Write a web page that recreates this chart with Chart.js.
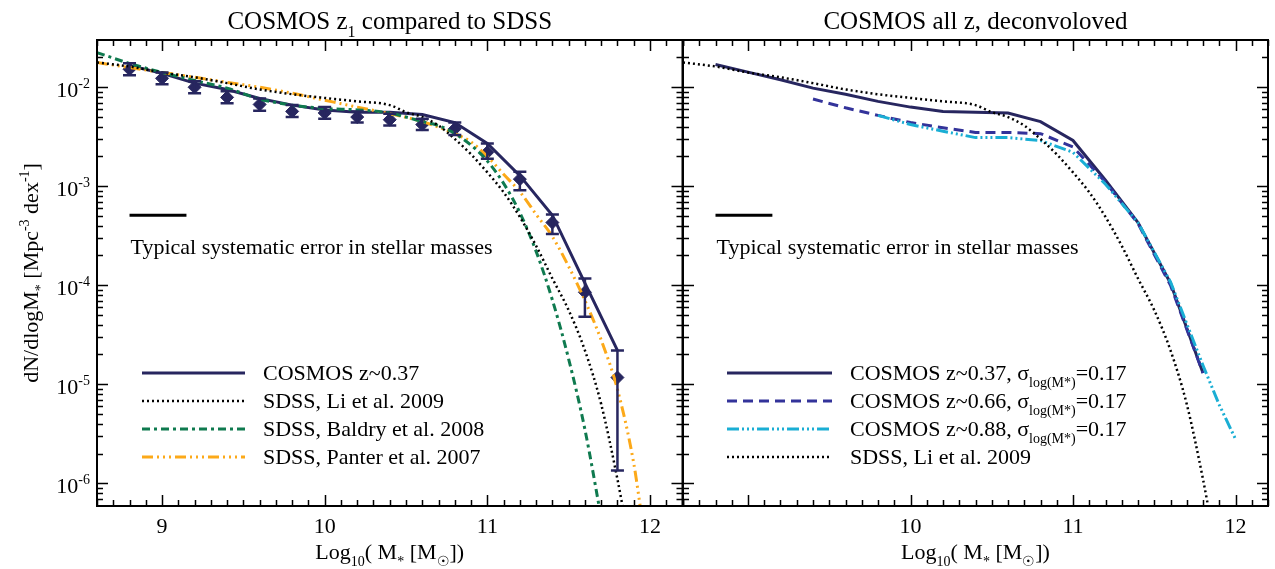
<!DOCTYPE html>
<html>
<head>
<meta charset="utf-8">
<script src="https://cdn.jsdelivr.net/npm/chart.js@4.4.1/dist/chart.umd.min.js"></script>
<style>
  body { margin: 0; background: #fff; width: 1275px; height: 569px; overflow: hidden; position: relative; }
  canvas { position: absolute; top: 0; }
  #left { left: 0; }
  #right { left: 676px; }
</style>
</head>
<body>
<canvas id="left" width="690" height="569"></canvas>
<canvas id="right" width="599" height="569"></canvas>
<script>
// ---- data (log10 stellar mass vs dN/dlogM*, Mpc^-3 dex^-1) ----
const massBins = [8.8, 9.0, 9.2, 9.4, 9.6, 9.8, 10.0, 10.2, 10.4, 10.6, 10.8, 11.0, 11.2, 11.4, 11.6, 11.8];

// left panel, COSMOS z~0.37
const cosmosLine = [0.0166, 0.0138, 0.0110, 0.0095, 0.0077, 0.0066, 0.0059, 0.0056, 0.0056, 0.0053, 0.0044, 0.0027, 0.00128, 0.00051, 0.000105, 0.000022];
const cosmosPoints = [0.0152, 0.0123, 0.0100, 0.0079, 0.0067, 0.0057, 0.0055, 0.0050, 0.0047, 0.0042, 0.0038, 0.0022, 0.00118, 0.00043, 0.000085, 0.0000117];
const cosmosErrLo = [0.0132, 0.0107, 0.0087, 0.0069, 0.0058, 0.0050, 0.0048, 0.0044, 0.0041, 0.0037, 0.0033, 0.0019, 0.00091, 0.00033, 0.000048, 0.00000135];
const cosmosErrHi = [0.0175, 0.0141, 0.0115, 0.0091, 0.0077, 0.0066, 0.0063, 0.0057, 0.0054, 0.0048, 0.0044, 0.0027, 0.00140, 0.00052, 0.000117, 0.000022];

// SDSS, Li et al. 2009
const liMass = [8.6, 8.8, 9.0, 9.2, 9.4, 9.6, 9.8, 10.0, 10.2, 10.4, 10.5, 10.6, 10.7, 10.8, 10.9, 11.0, 11.1, 11.2, 11.3, 11.4, 11.5, 11.6, 11.7, 11.8, 11.85];
const liPhi = [0.0178, 0.0162, 0.0141, 0.0126, 0.0110, 0.0095, 0.0085, 0.0078, 0.0072, 0.0066, 0.0056, 0.0050, 0.0041, 0.0030, 0.0021, 0.00138, 0.00087, 0.00049, 0.00025, 0.000117, 0.000056, 0.000022, 0.0000063, 0.0000011, 0.0000004];

// SDSS, Baldry et al. 2008
const baldryMass = [8.6, 8.8, 9.0, 9.2, 9.4, 9.6, 9.8, 10.0, 10.2, 10.4, 10.5, 10.6, 10.7, 10.8, 10.9, 11.0, 11.1, 11.2, 11.3, 11.4, 11.5, 11.6, 11.7];
const baldryPhi = [0.0224, 0.0174, 0.0141, 0.0117, 0.0098, 0.0076, 0.0066, 0.0061, 0.0059, 0.0055, 0.0050, 0.0045, 0.0041, 0.0034, 0.0026, 0.0018, 0.00107, 0.00054, 0.00022, 0.000071, 0.000018, 0.0000035, 0.00000045];

// SDSS, Panter et al. 2007
const panterMass = [8.6, 8.8, 9.0, 9.2, 9.4, 9.6, 9.8, 10.0, 10.2, 10.4, 10.6, 10.8, 10.9, 11.0, 11.1, 11.2, 11.3, 11.4, 11.5, 11.6, 11.7, 11.8, 11.9, 11.95];
const panterPhi = [0.0178, 0.0158, 0.0141, 0.0126, 0.0112, 0.0100, 0.0087, 0.0074, 0.0063, 0.0054, 0.0045, 0.0034, 0.0028, 0.0020, 0.00132, 0.00088, 0.00052, 0.00031, 0.000155, 0.000070, 0.000028, 0.0000089, 0.0000016, 0.00000045];

// right panel, deconvolved
const deconv037 = [0.0170, 0.0142, 0.0119, 0.0098, 0.0085, 0.0072, 0.0063, 0.0057, 0.0056, 0.0055, 0.0045, 0.0029, 0.00115, 0.00043, 0.000105, 0.000013];
const deconv066Mass = [9.4, 9.6, 9.8, 10.0, 10.2, 10.4, 10.6, 10.8, 11.0, 11.2, 11.4, 11.6, 11.8];
const deconv066 = [0.0076, 0.0062, 0.0052, 0.0044, 0.0039, 0.0035, 0.0035, 0.0034, 0.0025, 0.0011, 0.00042, 0.000100, 0.000013];
const deconv088Mass = [9.8, 10.0, 10.2, 10.4, 10.6, 10.8, 11.0, 11.2, 11.4, 11.6, 11.8, 11.9, 12.0];
const deconv088 = [0.0052, 0.0042, 0.0036, 0.0031, 0.0031, 0.0029, 0.0022, 0.00105, 0.00043, 0.000108, 0.0000155, 0.0000062, 0.0000028];

// typical systematic error bar
const sysErrMass = [8.8, 9.15];
const sysErrLevel = 0.00051;

const xTicksLeft = [9, 10, 11, 12];
const xTicksRight = [10, 11, 12];
const yTicks = [1e-6, 1e-5, 1e-4, 1e-3, 1e-2];
const yTickExp = ['-6', '-5', '-4', '-3', '-2'];

const X_MIN = 8.6, X_MAX = 12.2;
const Y_MIN = 5.9e-7, Y_MAX = 3.0e-2;

const NAVY = '#27265f';
const BLUE = '#33339a';
const CYAN = '#1aaed4';
const GREEN = '#0f7a4f';
const ORANGE = '#fca919';

const FONT = '"Liberation Serif", "DejaVu Serif", serif';

const styles = {
  solid: { borderColor: NAVY, borderWidth: 3, borderDash: [] },
  dotted: { borderColor: '#000', borderWidth: 2.5, borderDash: [2, 3] },
  baldry: { borderColor: GREEN, borderWidth: 3, borderDash: [8, 4, 3, 4] },
  panter: { borderColor: ORANGE, borderWidth: 3, borderDash: [11, 4, 2, 4, 2, 4, 2, 4] },
  dashed: { borderColor: BLUE, borderWidth: 3, borderDash: [10, 6] },
  cyan: { borderColor: CYAN, borderWidth: 3, borderDash: [12, 3, 2, 3, 2, 3, 2, 3] },
};

const pts = (xs, ys) => xs.map((x, i) => ({ x, y: ys[i] }));

const lineSet = (label, xs, ys, style, smooth) => ({
  label,
  data: pts(xs, ys),
  showLine: true,
  pointRadius: 0,
  fill: false,
  clip: 0,
  cubicInterpolationMode: smooth ? 'monotone' : 'default',
  tension: 0,
  ...style,
});

// draws text made of normal / sub / sup pieces, y = baseline
function drawRich(ctx, parts, x, y, size, align) {
  const items = parts.map(p => {
    const kind = p[1] || 'n';
    const px = kind === 'n' ? size : Math.round(size * 0.64);
    ctx.font = px + 'px ' + FONT;
    return { t: p[0], kind, px, w: ctx.measureText(p[0]).width };
  });
  const total = items.reduce((s, it) => s + it.w, 0);
  let cx = align === 'center' ? x - total / 2 : align === 'right' ? x - total : x;
  ctx.textAlign = 'left';
  ctx.textBaseline = 'alphabetic';
  ctx.fillStyle = '#000';
  items.forEach(it => {
    ctx.font = it.px + 'px ' + FONT;
    const dy = it.kind === 'sub' ? size * 0.3 : it.kind === 'sup' ? -size * 0.42 : 0;
    ctx.fillText(it.t, cx, y + dy);
    cx += it.w;
  });
}

function panelPlugin(cfg) {
  return {
    id: 'panel',
    afterDatasetsDraw(chart) {
      const { ctx, chartArea: a, scales: { x, y } } = chart;
      // error bars on the binned points
      if (cfg.errors) {
        ctx.save();
        ctx.beginPath();
        ctx.rect(a.left, a.top, a.right - a.left, a.bottom - a.top);
        ctx.clip();
        ctx.strokeStyle = NAVY;
        ctx.lineWidth = 2.5;
        cfg.errors.mass.forEach((m, i) => {
          const px = x.getPixelForValue(m);
          const lo = y.getPixelForValue(cfg.errors.lo[i]);
          const hi = y.getPixelForValue(cfg.errors.hi[i]);
          ctx.beginPath();
          ctx.moveTo(px, lo); ctx.lineTo(px, hi);
          ctx.moveTo(px - 6.5, lo); ctx.lineTo(px + 6.5, lo);
          ctx.moveTo(px - 6.5, hi); ctx.lineTo(px + 6.5, hi);
          ctx.stroke();
        });
        ctx.restore();
      }
    },
    afterDraw(chart) {
      const { ctx, chartArea: a, scales: { x, y } } = chart;
      const off = cfg.offset;
      ctx.save();
      // frame
      ctx.strokeStyle = '#000';
      ctx.lineWidth = 2;
      ctx.strokeRect(a.left, a.top, a.right - a.left, a.bottom - a.top);
      // inward ticks on all four sides
      ctx.lineWidth = 1.5;
      ctx.beginPath();
      for (let k = Math.ceil(X_MIN * 10); k <= Math.floor(X_MAX * 10); k++) {
        const px = Math.round(x.getPixelForValue(k / 10)) + 0.5;
        const len = k % 10 === 0 ? 11 : 6;
        ctx.moveTo(px, a.bottom); ctx.lineTo(px, a.bottom - len);
        ctx.moveTo(px, a.top); ctx.lineTo(px, a.top + len);
      }
      for (let e = -7; e <= -2; e++) {
        for (let m = 1; m <= 9; m++) {
          const v = m * Math.pow(10, e);
          if (v < Y_MIN || v > Y_MAX) continue;
          const py = Math.round(y.getPixelForValue(v)) + 0.5;
          if (py < a.top + 2 || py > a.bottom - 2) continue;
          const len = m === 1 ? 11 : 6;
          ctx.moveTo(a.left, py); ctx.lineTo(a.left + len, py);
          ctx.moveTo(a.right, py); ctx.lineTo(a.right - len, py);
        }
      }
      ctx.stroke();

      // y tick labels
      if (cfg.yLabels) {
        yTicks.forEach((v, i) => {
          const py = y.getPixelForValue(v);
          drawRich(ctx, [['10'], [yTickExp[i], 'sup']], 90, py + 10, 22, 'right');
        });
        // y axis title
        ctx.save();
        ctx.translate(30, (a.top + a.bottom) / 2);
        ctx.rotate(-Math.PI / 2);
        drawRich(ctx, [['dN/dlogM'], ['*', 'sub'], [' [Mpc'], ['-3', 'sup'], [' dex'], ['-1', 'sup'], [']']], 0, 8, 22, 'center');
        ctx.restore();
      }

      const cx = (a.left + a.right) / 2;
      // panel title
      drawRich(ctx, cfg.title, cx, 29, 25, 'center');
      // x axis title
      drawRich(ctx, [['Log'], ['10', 'sub'], ['( M'], ['*', 'sub'], [' [M'], ['\u2609', 'sub'], ['])']], cx, 559, 22, 'center');

      // typical systematic error note
      drawRich(ctx, [['Typical systematic error in stellar masses']], x.getPixelForValue(sysErrMass[0]) + 1, 254, 22, 'left');

      // legend
      const L = cfg.legend;
      L.items.forEach((it, i) => {
        const ly = L.rows[i];
        const st = styles[it.style];
        ctx.beginPath();
        ctx.strokeStyle = st.borderColor;
        ctx.lineWidth = st.borderWidth;
        ctx.setLineDash(st.borderDash);
        ctx.moveTo(L.x1 - off, ly); ctx.lineTo(L.x2 - off, ly);
        ctx.stroke();
        ctx.setLineDash([]);
        drawRich(ctx, it.text, L.tx - off, ly + 7, 22, 'left');
      });
      ctx.restore();
    }
  };
}

function baseOptions(xTicks, padLeft, padRight) {
  return {
    responsive: false,
    animation: false,
    devicePixelRatio: 1,
    events: [],
    layout: { padding: { left: padLeft, right: padRight, top: 40, bottom: 0 } },
    plugins: { legend: { display: false }, tooltip: { enabled: false } },
    scales: {
      x: {
        type: 'linear', min: X_MIN, max: X_MAX,
        grid: { display: false, drawTicks: false },
        border: { display: false },
        ticks: { color: '#000', font: { family: FONT, size: 22 }, padding: 8, maxRotation: 0 },
        afterBuildTicks: s => { s.ticks = xTicks.map(v => ({ value: v })); },
        afterFit: s => { s.height = 63; },
      },
      y: { type: 'logarithmic', min: Y_MIN, max: Y_MAX, display: false },
    },
  };
}

const sigma = z => [['COSMOS z~' + z + ', \u03c3'], ['log(M*)', 'sub'], ['=0.17']];

new Chart(document.getElementById('left'), {
  type: 'scatter',
  data: {
    datasets: [
      lineSet('SDSS, Li et al. 2009', liMass, liPhi, styles.dotted, true),
      lineSet('SDSS, Baldry et al. 2008', baldryMass, baldryPhi, styles.baldry, true),
      lineSet('SDSS, Panter et al. 2007', panterMass, panterPhi, styles.panter, true),
      lineSet('COSMOS z~0.37', massBins, cosmosLine, styles.solid, false),
      {
        label: 'COSMOS z~0.37 points',
        data: pts(massBins, cosmosPoints),
        pointStyle: 'rectRot', pointRadius: 6.5,
        backgroundColor: NAVY, borderColor: NAVY, borderWidth: 1, clip: 0,
      },
      lineSet('systematic error', sysErrMass, [sysErrLevel, sysErrLevel], { borderColor: '#000', borderWidth: 3, borderDash: [] }, false),
    ],
  },
  options: baseOptions(xTicksLeft, 97, 7),
  plugins: [panelPlugin({
    offset: 0,
    yLabels: true,
    errors: { mass: massBins, lo: cosmosErrLo, hi: cosmosErrHi },
    title: [['COSMOS z'], ['1', 'sub'], [' compared to SDSS']],
    legend: {
      x1: 142, x2: 245, tx: 263, rows: [373, 401, 429, 457],
      items: [
        { style: 'solid', text: [['COSMOS z~0.37']] },
        { style: 'dotted', text: [['SDSS, Li et al. 2009']] },
        { style: 'baldry', text: [['SDSS, Baldry et al. 2008']] },
        { style: 'panter', text: [['SDSS, Panter et al. 2007']] },
      ],
    },
  })],
});

new Chart(document.getElementById('right'), {
  type: 'scatter',
  data: {
    datasets: [
      lineSet('SDSS, Li et al. 2009', liMass, liPhi, styles.dotted, true),
      lineSet('COSMOS z~0.88', deconv088Mass, deconv088, styles.cyan, false),
      lineSet('COSMOS z~0.66', deconv066Mass, deconv066, styles.dashed, false),
      lineSet('COSMOS z~0.37', massBins, deconv037, styles.solid, false),
      lineSet('systematic error', sysErrMass, [sysErrLevel, sysErrLevel], { borderColor: '#000', borderWidth: 3, borderDash: [] }, false),
    ],
  },
  options: baseOptions(xTicksRight, 7, 7),
  plugins: [panelPlugin({
    offset: 676,
    yLabels: false,
    title: [['COSMOS all z, deconvoloved']],
    legend: {
      x1: 727, x2: 832, tx: 850, rows: [373, 401, 429, 457],
      items: [
        { style: 'solid', text: sigma('0.37') },
        { style: 'dashed', text: sigma('0.66') },
        { style: 'cyan', text: sigma('0.88') },
        { style: 'dotted', text: [['SDSS, Li et al. 2009']] },
      ],
    },
  })],
});
</script>
</body>
</html>
